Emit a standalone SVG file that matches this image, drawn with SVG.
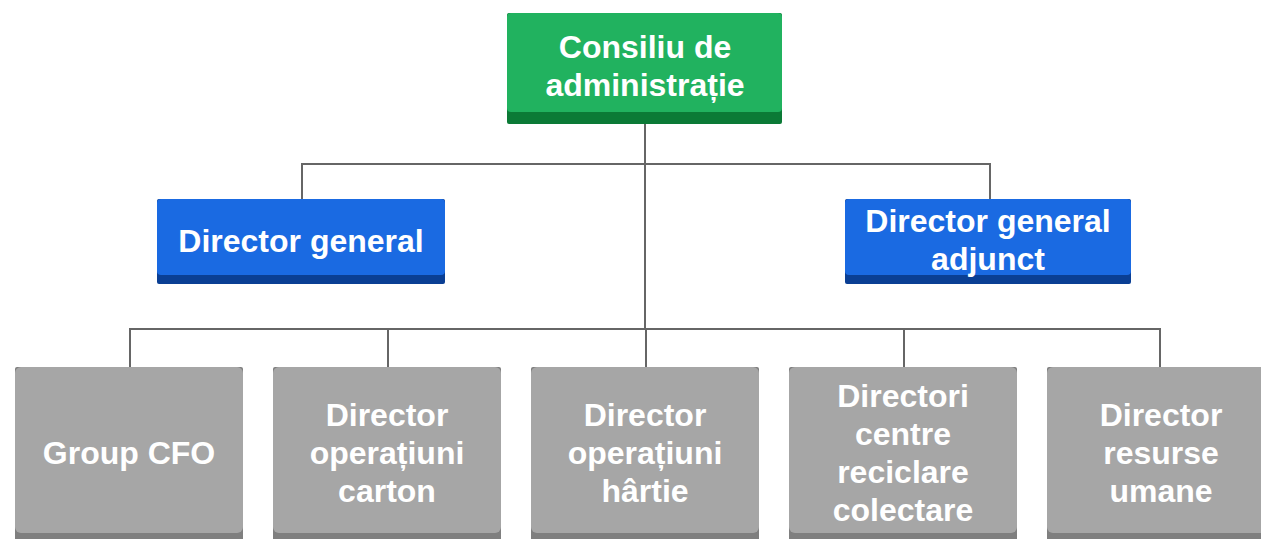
<svg xmlns="http://www.w3.org/2000/svg" width="1261" height="539" viewBox="0 0 1261 539">
<style>
.t{font-family:"Liberation Sans",Arial,sans-serif;font-weight:bold;font-size:32px;fill:#fff;text-anchor:middle}
.c{fill:none;stroke:#666;stroke-width:2}
.gA{fill:#21b25f}.gB{fill:#0b7a36}
.bA{fill:#1a6ae2}.bB{fill:#0a3f94}
.yA{fill:#a6a6a6}.yB{fill:#7f7f7f}
</style>
<rect width="1261" height="539" fill="#fff"/>
<g id="connectors">
<path class="c" d="M645 124V329M302 199V164H990V199M130 367V329H1160V367M388 329V367M646 329V367M904 329V367"/>
</g>
<g id="n-consiliu">
<rect class="gB" x="507" y="13" width="275" height="111" rx="2"/>
<rect class="gA" x="507" y="13" width="275" height="99" rx="4"/>
<text class="t" x="645" y="58">Consiliu de</text>
<text class="t" x="645" y="96">administrație</text>
</g>
<g id="n-dg">
<rect class="bB" x="157" y="199" width="288" height="85" rx="2"/>
<rect class="bA" x="157" y="199" width="288" height="76" rx="4"/>
<text class="t" x="301" y="252">Director general</text>
</g>
<g id="n-dga">
<rect class="bB" x="845" y="199" width="286" height="85" rx="2"/>
<rect class="bA" x="845" y="199" width="286" height="76" rx="4"/>
<text class="t" x="988" y="232">Director general</text>
<text class="t" x="988" y="270">adjunct</text>
</g>
<g id="n-cfo">
<rect class="yB" x="15" y="367" width="228" height="180" rx="2"/>
<rect class="yA" x="15" y="367" width="228" height="166" rx="6"/>
<text class="t" x="129" y="464">Group CFO</text>
</g>
<g id="n-carton">
<rect class="yB" x="273" y="367" width="228" height="180" rx="2"/>
<rect class="yA" x="273" y="367" width="228" height="166" rx="6"/>
<text class="t" x="387" y="426">Director</text>
<text class="t" x="387" y="464">operațiuni</text>
<text class="t" x="387" y="502">carton</text>
</g>
<g id="n-hartie">
<rect class="yB" x="531" y="367" width="228" height="180" rx="2"/>
<rect class="yA" x="531" y="367" width="228" height="166" rx="6"/>
<text class="t" x="645" y="426">Director</text>
<text class="t" x="645" y="464">operațiuni</text>
<text class="t" x="645" y="502">hârtie</text>
</g>
<g id="n-reciclare">
<rect class="yB" x="789" y="367" width="228" height="180" rx="2"/>
<rect class="yA" x="789" y="367" width="228" height="166" rx="6"/>
<text class="t" x="903" y="407">Directori</text>
<text class="t" x="903" y="445">centre</text>
<text class="t" x="903" y="483">reciclare</text>
<text class="t" x="903" y="521">colectare</text>
</g>
<g id="n-resurse">
<rect class="yB" x="1047" y="367" width="228" height="180" rx="2"/>
<rect class="yA" x="1047" y="367" width="228" height="166" rx="6"/>
<text class="t" x="1161" y="426">Director</text>
<text class="t" x="1161" y="464">resurse</text>
<text class="t" x="1161" y="502">umane</text>
</g>
</svg>
